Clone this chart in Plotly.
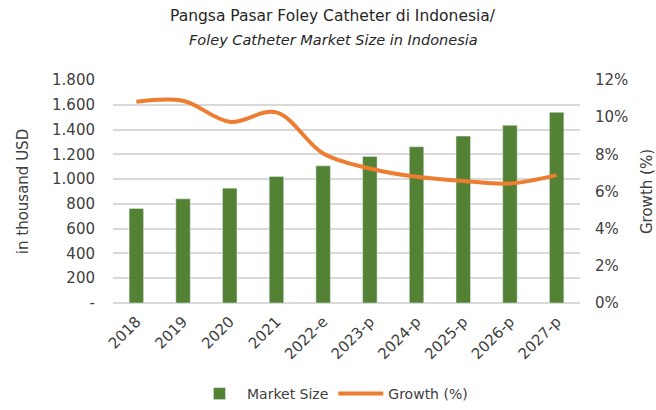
import plotly.graph_objects as go

categories = ["2018", "2019", "2020", "2021", "2022-e", "2023-p", "2024-p", "2025-p", "2026-p", "2027-p"]
market_size = [763, 841, 927, 1022, 1107, 1183, 1261, 1347, 1434, 1539]
growth_pct = [10.83, 10.88, 9.75, 10.26, 8.05, 7.24, 6.79, 6.57, 6.43, 6.88]

left_tickvals = [0, 200, 400, 600, 800, 1000, 1200, 1400, 1600, 1800]
left_ticktext = ["-", "200", "400", "600", "800", "1.000", "1.200", "1.400", "1.600", "1.800"]
right_tickvals = [0, 2, 4, 6, 8, 10, 12]
right_ticktext = ["0%", "2%", "4%", "6%", "8%", "10%", "12%"]
title_line1 = "Pangsa Pasar Foley Catheter di Indonesia/"
title_line2 = "<i>Foley Catheter Market Size in Indonesia</i>"

FONT = "DejaVu Sans"
TXT = "#404040"

fig = go.Figure()
fig.add_trace(go.Bar(x=categories, y=market_size, name="Market Size",
                     marker_color="#548235", yaxis="y"))
fig.add_trace(go.Scatter(x=categories, y=growth_pct, name="Growth (%)",
                         mode="lines", line=dict(color="#ED7D31", width=4, shape="spline", smoothing=1.0),
                         yaxis="y2"))

fig.update_layout(
    width=656, height=410,
    margin=dict(l=113, r=76, t=80, b=107, autoexpand=False),
    paper_bgcolor="white", plot_bgcolor="white",
    font=dict(family=FONT, color=TXT, size=14),
    bargap=0.69,
    showlegend=True,
    legend=dict(orientation="h", x=0.47, xanchor="center", yref="container", y=0.0, yanchor="bottom",
                font=dict(size=14, color=TXT), traceorder="normal", itemwidth=45),
    xaxis=dict(tickangle=-45, showgrid=False, showline=False, ticks="", automargin=False,
               ticklabelstandoff=6, tickfont=dict(size=15, color=TXT)),
    yaxis=dict(range=[0, 1800], tickvals=left_tickvals, ticktext=left_ticktext, automargin=False,
               showgrid=True, gridcolor="#d9d9d9", gridwidth=1.5, zeroline=True,
               zerolinecolor="#d9d9d9", zerolinewidth=1.5, ticks="", ticklabelstandoff=17,
               tickfont=dict(size=15, color=TXT),
               title=dict(text="in thousand USD", font=dict(size=15, color=TXT), standoff=19)),
    yaxis2=dict(range=[0, 12], tickvals=right_tickvals, ticktext=right_ticktext, automargin=False,
                overlaying="y", side="right", showgrid=False, zeroline=False, ticks="",
                ticklabelstandoff=14,
                tickfont=dict(size=15, color=TXT),
                title=dict(text="Growth (%)", font=dict(size=15, color=TXT), standoff=19)),
)
fig.add_annotation(text=title_line1, xref="paper", yref="paper", x=(333 - 113) / 467, y=(303 - 16) / 223,
                   xanchor="center", yanchor="middle", showarrow=False,
                   font=dict(size=15.5, color="#262626", family=FONT))
fig.add_annotation(text=title_line2, xref="paper", yref="paper", x=(333 - 113) / 467, y=(303 - 40) / 223,
                   xanchor="center", yanchor="middle", showarrow=False,
                   font=dict(size=14.5, color="#262626", family=FONT))

fig.write_html("out.html", config={"displayModeBar": False},
               post_script="document.body.style.margin='0px';")
